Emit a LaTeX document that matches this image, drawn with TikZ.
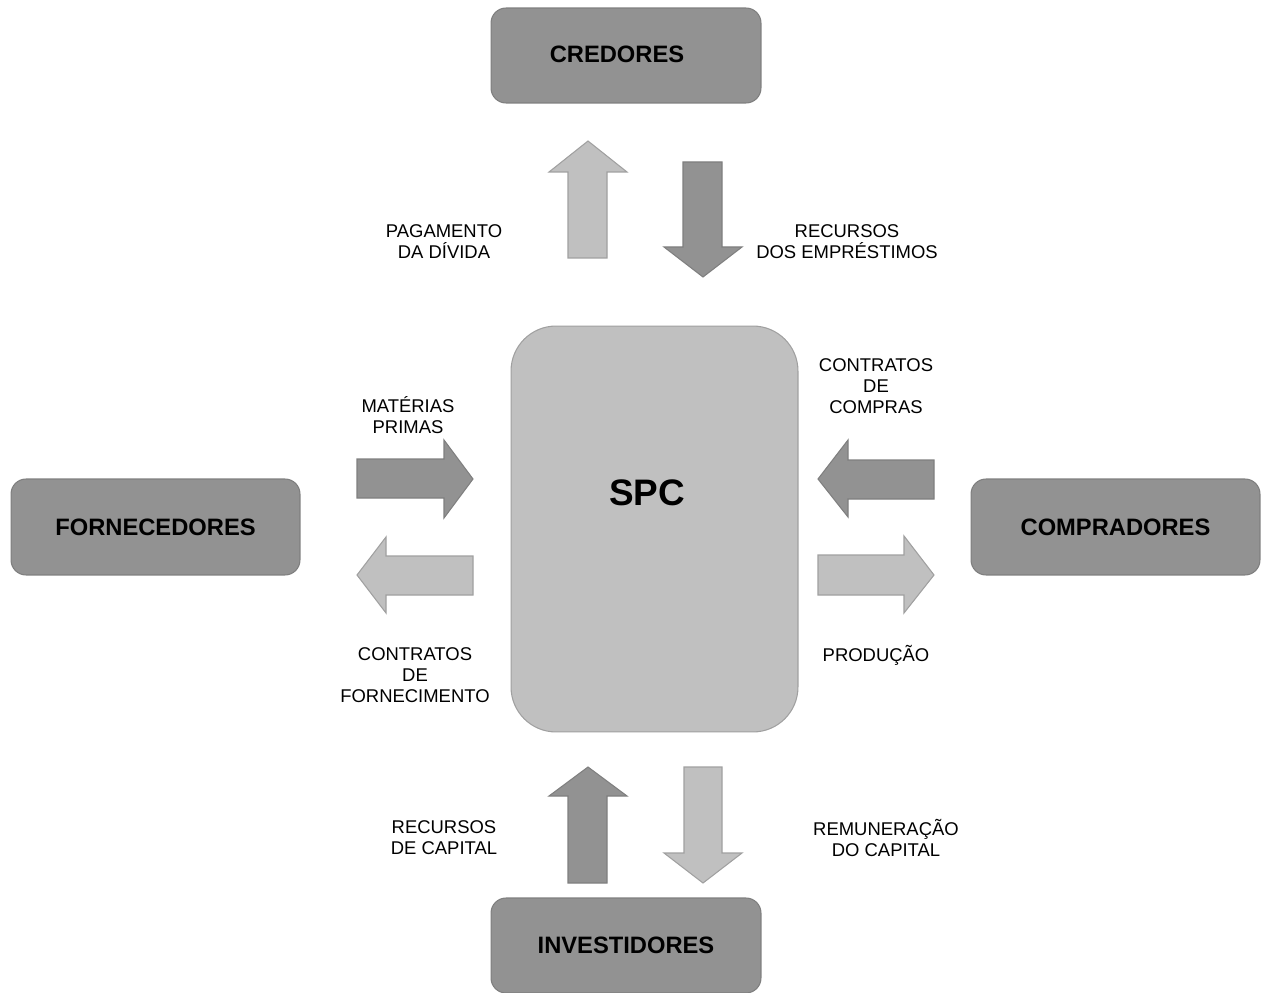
\documentclass[tikz,border=0pt]{standalone}
\usepackage{fontspec}
\setmainfont{Liberation Sans}
\usepackage{xcolor}
\usepackage{tikz}

\definecolor{darkfill}{HTML}{929292}
\definecolor{darkline}{HTML}{7F7F7F}
\definecolor{lightfill}{HTML}{C0C0C0}
\definecolor{lightline}{HTML}{A0A0A0}

\begin{document}
\begin{tikzpicture}[x=0.02cm, y=-0.02cm,
    party/.style={draw=darkline, fill=darkfill, line width=0.6pt, rounded corners=0.3cm,
        minimum width=5.4cm, minimum height=1.9cm, font=\fontsize{13.5}{16}\selectfont\bfseries},
    darkarrow/.style={draw=darkline, fill=darkfill, line width=0.6pt},
    lightarrow/.style={draw=lightline, fill=lightfill, line width=0.6pt},
    flowtext/.style={align=center, font=\fontsize{10.5}{12}\selectfont}]
            \useasboundingbox (0, 0) rectangle (1268, 993);
            % entidades
            \node[party] (credores) at (626, 55.5) {};
            \node[font=\fontsize{13.5}{16}\selectfont\bfseries] (credoreslabel) at (617, 54) {CREDORES};
            \node[party, minimum width=5.78cm, minimum height=1.92cm] (fornecedores) at (155.5, 527) {FORNECEDORES};
            \node[party, minimum width=5.78cm, minimum height=1.92cm] (compradores) at (1115.5, 527) {COMPRADORES};
            \node[party] (investidores) at (626, 945.5) {INVESTIDORES};
            \node[draw=lightline, fill=lightfill, line width=0.6pt, rounded corners=0.9cm,
                minimum width=5.74cm, minimum height=8.12cm] (spc) at (654.5, 529) {};
            \node[font=\fontsize{21}{25}\selectfont\bfseries] (spclabel) at (647, 493) {SPC};
            % setas credores
            \draw[lightarrow] (568, 258) -- (568, 172) -- (549, 172) -- (588, 141) -- (627, 172) -- (607, 172) -- (607, 258) -- cycle;
            \draw[darkarrow] (683, 162) -- (722, 162) -- (722, 247) -- (742, 247) -- (703, 277) -- (664, 247) -- (683, 247) -- cycle;
            % setas fornecedores
            \draw[darkarrow] (357, 459) -- (444, 459) -- (444, 440) -- (473, 479) -- (444, 518) -- (444, 498) -- (357, 498) -- cycle;
            \draw[lightarrow] (473, 556) -- (386, 556) -- (386, 537) -- (357, 575) -- (386, 613) -- (386, 595) -- (473, 595) -- cycle;
            % setas compradores
            \draw[darkarrow] (934, 460) -- (848, 460) -- (848, 440) -- (818, 479) -- (848, 517) -- (848, 499) -- (934, 499) -- cycle;
            \draw[lightarrow] (818, 555) -- (904, 555) -- (904, 536) -- (934, 575) -- (904, 613) -- (904, 595) -- (818, 595) -- cycle;
            % setas investidores
            \draw[darkarrow] (568, 883) -- (568, 796) -- (549, 796) -- (588, 767) -- (627, 796) -- (607, 796) -- (607, 883) -- cycle;
            \draw[lightarrow] (684, 767) -- (722, 767) -- (722, 853) -- (742, 853) -- (703, 883) -- (664, 853) -- (684, 853) -- cycle;
            % rotulos
            \node[flowtext] (pagamento) at (444, 242) {PAGAMENTO\\DA DÍVIDA};
            \node[flowtext] (emprestimos) at (847, 242) {RECURSOS\\DOS EMPRÉSTIMOS};
            \node[flowtext] (materias) at (408, 415) {MATÉRIAS\\PRIMAS};
            \node[flowtext] (fornecimento) at (415, 675) {CONTRATOS\\DE\\FORNECIMENTO};
            \node[flowtext] (compras) at (876, 386) {CONTRATOS\\DE\\COMPRAS};
            \node[flowtext] (producao) at (876, 655) {PRODUÇÃO};
            \node[flowtext] (capital) at (444, 838) {RECURSOS\\DE CAPITAL};
            \node[flowtext] (remuneracao) at (886, 838) {REMUNERAÇÃO\\DO CAPITAL};
        \end{tikzpicture}
\end{document}
